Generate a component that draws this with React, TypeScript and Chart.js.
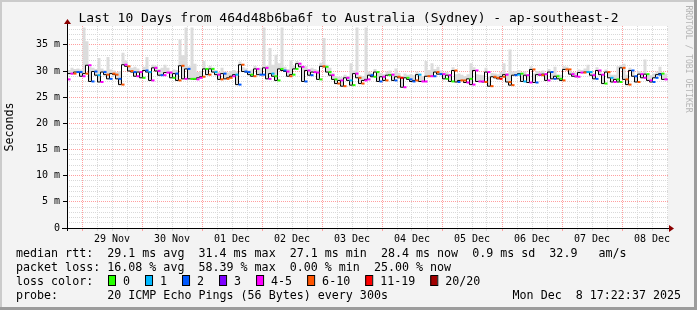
import React, { useEffect, useRef } from 'react';
import { Chart, registerables } from 'chart.js';

Chart.register(...registerables);

const TITLE = 'Last 10 Days from 464d48b6ba6f to Australia (Sydney) - ap-southeast-2';
const Y_TITLE = 'Seconds';
const WATERMARK = 'RRDTOOL / TOBI OETIKER';
const DAY_LABELS = ['29 Nov', '30 Nov', '01 Dec', '02 Dec', '03 Dec', '04 Dec', '05 Dec', '06 Dec', '07 Dec', '08 Dec'];
const X_MIN_HOUR = -6; // hours relative to 29 Nov 00:00
const X_MAX_HOUR = 234.4;
const DATA_START_HOUR = -5.8;
const STEP_HOURS = 1.2;
const Y_MAX_MS = 38.6;

// median round-trip time per step (ms)
const MEDIAN_MS = [
  28.4, 29.5, 29.5, 29.8, 29.8, 29.0, 29.5, 31.1, 28.0, 29.9,
  29.2, 27.9, 29.8, 29.3, 28.5, 29.5, 29.3, 28.5, 27.4, 31.2,
  30.9, 30.0, 29.8, 29.0, 29.8, 28.7, 30.1, 29.8, 28.2, 30.6,
  30.0, 29.2, 29.2, 29.7, 29.7, 28.7, 29.5, 28.2, 31.0, 28.5,
  30.4, 28.5, 28.5, 28.4, 28.7, 28.9, 30.4, 29.3, 30.4, 29.8,
  29.3, 28.4, 29.5, 28.5, 28.7, 29.0, 29.3, 27.4, 31.2, 29.9,
  29.8, 29.3, 29.0, 30.4, 29.3, 29.3, 30.6, 28.5, 29.5, 29.0,
  28.2, 30.4, 30.1, 29.9, 29.0, 29.3, 30.4, 31.4, 30.8, 28.0,
  30.1, 29.2, 29.8, 29.7, 28.4, 30.9, 30.8, 29.8, 29.2, 28.4,
  27.6, 28.2, 27.1, 28.7, 28.2, 27.3, 29.5, 28.7, 27.6, 28.2,
  28.4, 29.2, 28.9, 29.8, 28.0, 28.9, 28.2, 29.2, 29.3, 28.2,
  28.9, 28.7, 26.9, 28.7, 28.4, 28.0, 28.2, 29.3, 28.0, 28.0,
  29.0, 29.0, 29.0, 29.8, 29.4, 29.4, 28.5, 29.2, 28.0, 30.1,
  27.9, 28.2, 28.2, 27.8, 28.5, 27.4, 30.1, 28.0, 28.0, 27.9,
  29.8, 27.1, 28.9, 28.7, 28.5, 28.9, 29.3, 27.9, 27.3, 29.2,
  29.3, 29.5, 28.0, 29.2, 27.8, 30.3, 27.8, 29.3, 29.2, 29.4,
  28.2, 29.8, 28.5, 29.0, 28.5, 28.2, 30.3, 30.3, 29.4, 29.0,
  28.9, 29.7, 29.7, 29.8, 29.8, 29.2, 28.5, 30.1, 29.3, 27.6,
  29.8, 28.7, 27.9, 28.4, 27.9, 30.6, 28.4, 27.4, 30.1, 29.0,
  27.9, 29.4, 28.7, 29.4, 28.2, 27.9, 28.7, 29.3, 29.5, 28.4,
];

// top of the smoke (slowest ping) per step (ms)
const SMOKE_MAX_MS = [
  29.6, 30.2, 30.6, 30.4, 30.5, 30.3, 38.3, 35.7, 30.8, 30.6,
  30.4, 32.5, 30.5, 30.2, 32.7, 30.3, 30.1, 29.8, 30.0, 33.5,
  32.0, 30.9, 30.6, 30.8, 30.5, 29.9, 30.8, 32.7, 30.0, 31.2,
  31.0, 30.4, 30.6, 31.2, 30.6, 30.0, 30.3, 30.2, 36.0, 33.0,
  38.3, 30.9, 38.3, 31.4, 29.8, 30.0, 31.9, 30.5, 31.0, 30.6,
  30.2, 29.8, 30.6, 29.9, 29.7, 30.0, 30.2, 29.9, 31.8, 30.7,
  30.5, 30.1, 30.3, 31.0, 30.4, 30.6, 38.3, 31.0, 34.4, 31.2,
  33.1, 31.5, 38.3, 30.8, 30.4, 32.0, 31.0, 31.9, 31.3, 30.8,
  30.9, 30.3, 30.6, 30.4, 30.2, 31.6, 36.3, 31.2, 30.6, 29.6,
  29.0, 28.9, 28.8, 29.3, 29.0, 31.5, 30.1, 38.3, 29.2, 29.0,
  38.3, 29.9, 29.6, 30.4, 29.7, 29.6, 29.4, 29.9, 30.1, 29.5,
  30.5, 29.6, 29.0, 29.5, 29.3, 29.4, 29.2, 29.9, 29.1, 29.0,
  31.9, 30.2, 31.5, 30.4, 30.8, 30.1, 29.7, 29.8, 29.3, 30.7,
  29.4, 29.5, 29.3, 29.0, 29.4, 31.5, 30.7, 29.4, 29.3, 29.2,
  30.6, 28.9, 29.6, 29.5, 29.4, 29.8, 31.5, 29.6, 34.1, 29.9,
  30.0, 30.2, 29.6, 29.9, 29.4, 30.9, 29.5, 30.0, 29.9, 30.1,
  29.6, 30.4, 29.5, 30.8, 29.4, 29.3, 30.9, 30.8, 30.0, 29.8,
  29.7, 30.3, 30.2, 30.5, 31.2, 30.0, 29.6, 30.7, 30.0, 29.4,
  30.3, 29.6, 29.3, 29.3, 30.9, 31.1, 31.4, 29.3, 30.6, 29.8,
  29.2, 30.0, 29.7, 32.2, 29.4, 29.2, 29.5, 29.9, 30.8, 29.5,
];

// lost pings out of 20 per step
const LOST_PINGS = [
  4, 4, 6, 2, 2, 4, 7, 4, 2, 2,
  1, 4, 2, 6, 2, 6, 6, 2, 7, 4,
  6, 7, 2, 4, 4, 0, 2, 1, 4, 4,
  4, 2, 4, 4, 4, 0, 2, 6, 7, 4,
  2, 0, 0, 4, 4, 6, 0, 6, 0, 1,
  4, 6, 2, 6, 6, 4, 1, 2, 6, 2,
  2, 0, 6, 4, 2, 2, 4, 4, 1, 0,
  0, 0, 2, 4, 6, 0, 0, 4, 4, 2,
  4, 2, 4, 4, 0, 6, 0, 0, 4, 0,
  6, 4, 6, 4, 1, 0, 4, 6, 6, 4,
  4, 2, 0, 0, 2, 4, 6, 0, 4, 2,
  6, 12, 4, 0, 2, 2, 6, 1, 4, 4,
  6, 4, 2, 6, 2, 4, 0, 4, 0, 6,
  2, 6, 6, 4, 0, 4, 4, 4, 4, 6,
  4, 6, 6, 6, 12, 6, 4, 6, 6, 2,
  1, 0, 1, 4, 4, 6, 2, 4, 6, 4,
  4, 2, 2, 0, 0, 6, 6, 6, 4, 4,
  4, 4, 6, 1, 1, 4, 2, 4, 4, 0,
  6, 1, 4, 0, 0, 6, 6, 6, 2, 2,
  6, 4, 4, 0, 4, 2, 2, 2, 0, 4,
];

const LOSS_LABELS = ['0', '1', '2', '3', '4-5', '6-10', '11-19', '20/20'];
const LOSS_UPPER = [0, 1, 2, 3, 5, 10, 19, 20];
const LOSS_COLORS = ['#26ff00', '#00b8ff', '#0059ff', '#7e00ff', '#ff00ff', '#ff5500', '#ff0000', '#a10000'];

const LEGEND_RTT = 'median rtt:  29.1 ms avg  31.4 ms max  27.1 ms min  28.4 ms now  0.9 ms sd  32.9   am/s';
const LEGEND_LOSS = 'packet loss: 16.08 % avg  58.39 % max  0.00 % min  25.00 % now';
const LEGEND_COLOR = 'loss color:';
const LEGEND_PROBE = 'probe:       20 ICMP Echo Pings (56 Bytes) every 300s';
const LEGEND_DATE = 'Mon Dec  8 17:22:37 2025';

const MONO = '"DejaVu Sans Mono", monospace';
const GRID_MINOR = '#d9d9d9';
const GRID_MAJOR = '#ff9f9f';

function lossColor(n: number): string {
  for (let k = 0; k < LOSS_UPPER.length; k++) if (n <= LOSS_UPPER[k]) return LOSS_COLORS[k];
  return LOSS_COLORS[LOSS_COLORS.length - 1];
}

const rrdPlugin = {
  id: 'rrdDecor',
  beforeDraw(chart: any) {
    const { ctx, width, height, chartArea: a } = chart;
    ctx.save();
    ctx.fillStyle = '#f3f3f3';
    ctx.fillRect(0, 0, width, height);
    ctx.fillStyle = '#cbcbcb';
    ctx.fillRect(0, 0, width, 2);
    ctx.fillRect(0, 0, 2, height);
    ctx.fillStyle = '#9c9c9c';
    ctx.fillRect(0, height - 3, width, 3);
    ctx.fillRect(width - 3, 0, 3, height);
    ctx.fillStyle = '#ffffff';
    ctx.fillRect(a.left, a.top, a.right - a.left, a.bottom - a.top);
    ctx.restore();
  },
  afterDraw(chart: any) {
    const { ctx, chartArea: a, scales } = chart;
    const yS = scales.y;
    ctx.save();
    const left = Math.round(a.left);
    const bottom = Math.round(a.bottom);
    // axes
    ctx.fillStyle = '#000000';
    ctx.fillRect(left - 5, bottom, Math.round(a.right) - left + 8, 1);
    ctx.fillRect(left, Math.round(a.top) - 4, 1, bottom - Math.round(a.top) + 7);
    for (let v = 0; v <= 35; v += 5) {
      const py = Math.round(yS.getPixelForValue(v) - 0.5);
      ctx.fillRect(left - 4, py, 4, 1);
    }
    // arrows
    ctx.fillStyle = '#8a0000';
    ctx.beginPath();
    ctx.moveTo(Math.round(a.right) + 6, bottom + 0.5);
    ctx.lineTo(Math.round(a.right) + 1, bottom - 3);
    ctx.lineTo(Math.round(a.right) + 1, bottom + 4);
    ctx.closePath();
    ctx.fill();
    ctx.beginPath();
    ctx.moveTo(left + 0.5, Math.round(a.top) - 7);
    ctx.lineTo(left - 3, Math.round(a.top) - 2);
    ctx.lineTo(left + 4, Math.round(a.top) - 2);
    ctx.closePath();
    ctx.fill();

    // title
    ctx.fillStyle = '#000000';
    ctx.textBaseline = 'middle';
    ctx.textAlign = 'center';
    ctx.font = `13px ${MONO}`;
    ctx.fillText(TITLE, chart.width / 2, 19);

    // y title
    ctx.font = `11.66px ${MONO}`;
    ctx.save();
    ctx.translate(10, (a.top + a.bottom) / 2);
    ctx.rotate(-Math.PI / 2);
    ctx.fillText(Y_TITLE, 0, 0);
    ctx.restore();

    // watermark
    ctx.save();
    ctx.fillStyle = '#b4b4b4';
    ctx.font = `8.1px ${MONO}`;
    ctx.translate(688, 59);
    ctx.rotate(Math.PI / 2);
    ctx.fillText(WATERMARK, 0, 0);
    ctx.restore();

    // legend
    ctx.textAlign = 'left';
    ctx.font = `11.66px ${MONO}`;
    ctx.fillStyle = '#000000';
    ctx.fillText(LEGEND_RTT, 16, 254);
    ctx.fillText(LEGEND_LOSS, 16, 268);
    ctx.fillText(LEGEND_COLOR, 16, 282);
    ctx.fillText(LEGEND_PROBE, 16, 296);
    ctx.textAlign = 'right';
    ctx.fillText(LEGEND_DATE, 681, 296);
    ctx.textAlign = 'left';
    let bx = 108;
    for (let k = 0; k < LOSS_LABELS.length; k++) {
      ctx.fillStyle = LOSS_COLORS[k];
      ctx.fillRect(bx, 276, 7, 10);
      ctx.strokeStyle = '#000000';
      ctx.lineWidth = 1;
      ctx.strokeRect(bx + 0.5, 275.5, 7, 10);
      ctx.fillStyle = '#000000';
      ctx.fillText(LOSS_LABELS[k], bx + 15, 282);
      bx += 15 + ctx.measureText(LOSS_LABELS[k]).width + 15;
    }
    ctx.restore();
  },
};

export default function App() {
  const ref = useRef<HTMLCanvasElement>(null);

  useEffect(() => {
    if (!ref.current) return;
    const n = MEDIAN_MS.length;
    const xs = MEDIAN_MS.map((_, i) => DATA_START_HOUR + i * STEP_HOURS);
    const endX = DATA_START_HOUR + n * STEP_HOURS;
    const smokePts = SMOKE_MAX_MS.map((v, i) => ({ x: xs[i], y: v }));
    smokePts.push({ x: endX, y: SMOKE_MAX_MS[n - 1] });
    const medianPts = MEDIAN_MS.map((v, i) => ({ x: xs[i], y: v }));
    medianPts.push({ x: endX, y: MEDIAN_MS[n - 1] });
    const dashPts = MEDIAN_MS.map((v, i) => ({ x: xs[i] + STEP_HOURS / 2, y: v }));
    const dashColors = LOST_PINGS.map(lossColor);

    const xTicks: number[] = [];
    for (let h = X_MIN_HOUR; h <= X_MAX_HOUR; h += 6) xTicks.push(h);
    const yTicks: number[] = [];
    for (let v = 0; v <= Math.floor(Y_MAX_MS); v += 1) yTicks.push(v);

    const chart = new Chart(ref.current, {
      type: 'line',
      data: {
        datasets: [
          {
            label: 'smoke',
            data: smokePts,
            stepped: 'after',
            borderWidth: 0,
            borderColor: 'rgba(0,0,0,0)',
            backgroundColor: '#dcdcdc',
            pointRadius: 0,
            fill: '+1',
            order: 2,
          },
          {
            label: 'median',
            data: medianPts,
            stepped: 'after',
            borderWidth: 1,
            borderColor: '#000000',
            pointRadius: 0,
            fill: false,
            order: 1,
          },
          {
            label: 'loss',
            data: dashPts,
            showLine: false,
            pointStyle: 'line',
            pointRadius: 1.5,
            pointBorderWidth: 2,
            pointBorderColor: dashColors,
            pointBackgroundColor: dashColors,
            order: 0,
          },
        ] as any,
      },
      options: {
        responsive: false,
        animation: false,
        devicePixelRatio: 1,
        events: [],
        layout: { padding: { top: 26, right: 29, left: 0, bottom: 0 } },
        plugins: {
          legend: { display: false },
          title: { display: false },
          tooltip: { enabled: false },
        },
        scales: {
          x: {
            type: 'linear',
            min: X_MIN_HOUR,
            max: X_MAX_HOUR,
            afterBuildTicks: (s: any) => {
              s.ticks = xTicks.map((v) => ({ value: v }));
            },
            afterFit: (s: any) => {
              s.height = 82;
            },
            grid: {
              color: (c: any) => (c.tick && c.tick.value % 24 === 0 ? GRID_MAJOR : GRID_MINOR),
              lineWidth: 1,
              drawTicks: true,
              tickLength: 3,
            },
            border: { display: false, dash: [1, 1] },
            ticks: {
              autoSkip: false,
              maxRotation: 0,
              minRotation: 0,
              padding: 2,
              color: '#000000',
              font: { family: MONO, size: 10 },
              callback: (v: any) => {
                const h = Number(v);
                if (((h % 24) + 24) % 24 !== 12) return '';
                return DAY_LABELS[(h - 12) / 24] ?? '';
              },
            },
          },
          y: {
            type: 'linear',
            min: 0,
            max: Y_MAX_MS,
            afterBuildTicks: (s: any) => {
              s.ticks = yTicks.map((v) => ({ value: v }));
            },
            afterFit: (s: any) => {
              s.width = 67;
            },
            grid: {
              color: (c: any) => (c.tick && c.tick.value % 5 === 0 ? GRID_MAJOR : GRID_MINOR),
              lineWidth: 1,
              drawTicks: false,
            },
            border: { display: false, dash: [1, 1] },
            ticks: {
              autoSkip: false,
              padding: 7,
              color: '#000000',
              font: { family: MONO, size: 10 },
              callback: (v: any) => {
                const n2 = Number(v);
                if (n2 === 0) return '0';
                return n2 % 5 === 0 ? `${n2} m` : '';
              },
            },
          },
        },
      },
      plugins: [rrdPlugin],
    } as any);
    return () => chart.destroy();
  }, []);

  return (
    <div style={{ position: 'fixed', left: 0, top: 0, width: 697, height: 310 }}>
      <canvas ref={ref} width={697} height={310} style={{ display: 'block', width: 697, height: 310 }} />
    </div>
  );
}
